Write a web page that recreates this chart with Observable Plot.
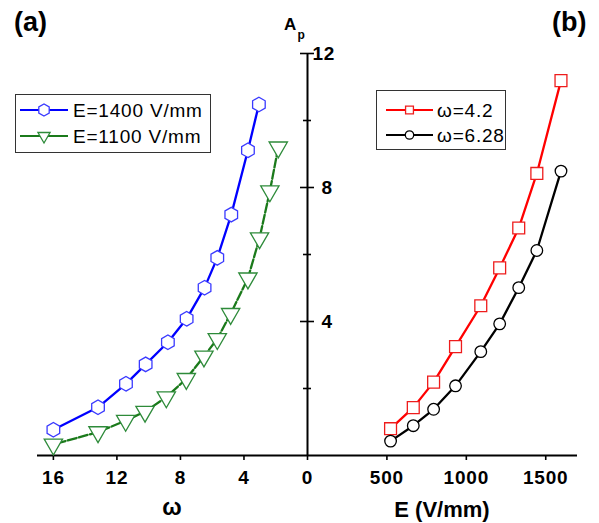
<!DOCTYPE html>
<html>
<head>
<meta charset="utf-8">
<script src="https://cdn.jsdelivr.net/npm/d3@7"></script>
<script src="https://cdn.jsdelivr.net/npm/@observablehq/plot@0.6"></script>
<style>
  body { margin: 0; background: #fff; }
  #wrap { position: relative; width: 599px; height: 523px; font-family: "Liberation Sans", Arial, sans-serif; color: #000; }
  #wrap svg text { letter-spacing: 0.8px; font-weight: bold; font-size: 19px; fill: #000; font-family: "Liberation Sans", Arial, sans-serif; }
  .ov { position: absolute; white-space: nowrap; line-height: 1; font-weight: bold; }
  .legend { position: absolute; border: 1.5px solid #333; background: #fff; box-sizing: border-box; }
  .legend span { position: absolute; white-space: nowrap; line-height: 1; font-size: 19px; letter-spacing: 0.8px; }
</style>
</head>
<body>
<div id="wrap"></div>
<script>
// ---------- data ----------
// panel (a): A_p versus ω
const omega1400 = [3.06, 3.75, 4.8, 5.68, 6.48, 7.61, 8.79, 10.19, 11.43, 13.19, 16];
const ap1400    = [10.48, 9.11, 7.19, 5.90, 5.01, 4.08, 3.38, 2.72, 2.14, 1.44, 0.77];
const omega1100 = [1.84, 2.37, 3.02, 3.75, 4.84, 5.68, 6.52, 7.63, 8.89, 10.23, 11.45, 13.19, 16];
const ap1100    = [9.20, 7.89, 6.49, 5.29, 4.23, 3.48, 2.96, 2.29, 1.74, 1.31, 1.04, 0.70, 0.33];
// panel (b): A_p versus E (V/mm)
const fieldE    = [523, 666, 794, 932, 1091, 1210, 1330, 1444, 1596];
const apW42     = [0.80, 1.43, 2.19, 3.25, 4.47, 5.60, 6.79, 8.42, 11.19];
const apW628    = [0.43, 0.89, 1.38, 2.08, 3.10, 3.93, 5.01, 6.12, 8.49];
// tick labels
const omegaTicks = [16, 12, 8, 4, 0];
const eTicks     = [500, 1000, 1500];
const apMajor    = [4, 8, 12];
const apMinor    = [2, 6, 10];
const omegaMax = 17, eMaxHundreds = 17;

// ---------- shared horizontal scale ----------
// ω runs right-to-left toward the central A_p axis; E (in hundreds of V/mm) runs left-to-right.
const omegaToX = w => -w;
const fieldToX = e => e / 100;

const sA1 = omega1400.map((w, i) => ({x: omegaToX(w), y: ap1400[i]}));
const sA2 = omega1100.map((w, i) => ({x: omegaToX(w), y: ap1100[i]}));
const sB1 = fieldE.map((e, i) => ({x: fieldToX(e), y: apW42[i]}));
const sB2 = fieldE.map((e, i) => ({x: fieldToX(e), y: apW628[i]}));

const tickPos = [...omegaTicks.map(omegaToX), ...eTicks.map(fieldToX)];
const tickLabel = new Map([
  ...omegaTicks.map(w => [omegaToX(w), String(w)]),
  ...eTicks.map(e => [fieldToX(e), String(e)])
]);
const apTop = d3.max(apMajor);

const W = 599, H = 523;
const BLUE = "#0000ff", BLUE_M = "#3a3aff";
const GREEN = "#1b7a1b", GREEN_M = "#2e8b3a";
const RED = "#ff0000", RED_M = "#ee1c1c";
const BLACK = "#000000";

const chart = Plot.plot({
  width: W, height: H,
  marginLeft: 37, marginRight: 22, marginTop: 53, marginBottom: 68,
  x: {domain: [omegaToX(omegaMax), eMaxHundreds], axis: null},
  y: {domain: [0, apTop], axis: null},
  style: {fontFamily: '"Liberation Sans", Arial, sans-serif', background: "white", color: "black", overflow: "visible"},
  marks: [
    Plot.ruleY([0], {stroke: BLACK, strokeWidth: 2}),
    Plot.ruleX([0], {y1: 0, y2: apTop, stroke: BLACK, strokeWidth: 2}),
    Plot.ruleY(apMajor, {x1: 0, x2: 0, insetLeft: -7, insetRight: -7, stroke: BLACK, strokeWidth: 1.6}),
    Plot.ruleY(apMinor, {x1: 0, x2: 0, insetLeft: -4, insetRight: -4, stroke: BLACK, strokeWidth: 1.6}),
    Plot.text(apMajor.slice(0, -1), {x: 0, y: d => d, text: d => String(d), dx: 14, textAnchor: "start", fontSize: 19, fontWeight: "bold", fill: BLACK}),
    Plot.text(apMajor.slice(-1), {x: 0, y: d => d, text: d => String(d), dx: 5, textAnchor: "start", fontSize: 19, fontWeight: "bold", fill: BLACK}),
    Plot.axisX(tickPos, {tickSize: 5, tickPadding: 10, tickFormat: d => tickLabel.get(d), fontSize: 19, fontWeight: "bold", strokeWidth: 1.6, label: null}),
    Plot.line(sA1, {x: "x", y: "y", stroke: BLUE, strokeWidth: 2.3}),
    Plot.line(sA2, {x: "x", y: "y", stroke: GREEN, strokeWidth: 2.3, strokeDasharray: "9,2.5"}),
    Plot.line(sB1, {x: "x", y: "y", stroke: RED, strokeWidth: 2.3}),
    Plot.line(sB2, {x: "x", y: "y", stroke: BLACK, strokeWidth: 2.3}),
    Plot.dot(sA1, {x: "x", y: "y", symbol: "hexagon", r: 6.3, fill: "white", stroke: BLUE_M, strokeWidth: 1.3}),
    Plot.dot(sA2, {x: "x", y: "y", symbol: "triangle", rotate: 180, r: 6.8, fill: "white", stroke: GREEN_M, strokeWidth: 1.3}),
    Plot.dot(sB1, {x: "x", y: "y", symbol: "square", r: 6.7, fill: "white", stroke: RED_M, strokeWidth: 1.3}),
    Plot.dot(sB2, {x: "x", y: "y", symbol: "circle", r: 5.8, fill: "white", stroke: BLACK, strokeWidth: 1.3})
  ]
});

const wrap = document.getElementById("wrap");
wrap.append(chart);

// ---------- overlay texts ----------
const xs = chart.scale("x");
const px = v => xs.apply(v);
function addText(html, opts) {
  const d = document.createElement("div");
  d.className = "ov";
  d.innerHTML = html;
  d.style.fontSize = opts.size + "px";
  d.style.top = (opts.baseline - 0.847 * opts.size) + "px";
  if (opts.center != null) { d.style.left = opts.center + "px"; d.style.transform = "translateX(-50%)"; }
  else d.style.left = opts.left + "px";
  wrap.append(d);
  return d;
}
addText("(a)", {size: 27, left: 14, baseline: 32});
addText("(b)", {size: 27, left: 552, baseline: 32});
addText("A", {size: 17, left: 284, baseline: 30.7});
addText("p", {size: 12, left: 297.5, baseline: 39});
addText("ω", {size: 23, center: (px(omegaToX(omegaMax)) + px(0)) / 2, baseline: 515});
addText("E (V/mm)", {size: 22, center: (px(0) + px(eMaxHundreds)) / 2, baseline: 518});

// ---------- legends ----------
function symbolPath(kind, r) {
  if (kind === "hexagon") {
    const rx = r, ry = r * 2 / Math.sqrt(3), hy = ry / 2;
    return `M0,${ry}L${rx},${hy}L${rx},${-hy}L0,${-ry}L${-rx},${-hy}L${-rx},${hy}Z`;
  }
  const t = {triangle: d3.symbolTriangle2, square: d3.symbolSquare2, circle: d3.symbolCircle}[kind];
  return d3.symbol(t, Math.PI * r * r)();
}
function addLegend(box, rows) {
  const div = document.createElement("div");
  div.className = "legend";
  Object.assign(div.style, {left: box.left + "px", top: box.top + "px", width: box.width + "px", height: box.height + "px"});
  rows.forEach(row => {
    const svg = d3.create("svg").attr("width", box.swatchW).attr("height", 20)
      .style("position", "absolute").style("left", box.swatchX + "px").style("top", (row.cy - 10) + "px");
    svg.append("line").attr("x1", 0).attr("x2", box.swatchW).attr("y1", 10).attr("y2", 10)
      .attr("stroke", row.color).attr("stroke-width", 2.2);
    svg.append("path").attr("d", symbolPath(row.symbol, row.r))
      .attr("transform", `translate(${box.swatchW / 2},10) rotate(${row.rotate || 0})`)
      .attr("fill", "white").attr("stroke", row.mcolor).attr("stroke-width", 1.3);
    div.append(svg.node());
    const span = document.createElement("span");
    span.textContent = row.label;
    span.style.left = box.textX + "px";
    span.style.top = (row.cy - 9.3) + "px";
    div.append(span);
  });
  wrap.append(div);
}
addLegend({left: 15, top: 94, width: 196, height: 59, swatchX: 4, swatchW: 48, textX: 57}, [
  {label: "E=1400 V/mm", color: BLUE, mcolor: BLUE_M, symbol: "hexagon", r: 5.2, cy: 15},
  {label: "E=1100 V/mm", color: GREEN, mcolor: GREEN_M, symbol: "triangle", rotate: 180, r: 5.8, cy: 41}
]);
addLegend({left: 376, top: 90, width: 130, height: 60, swatchX: 9, swatchW: 47, textX: 60}, [
  {label: "ω=4.2", color: RED, mcolor: RED_M, symbol: "square", r: 5, cy: 19},
  {label: "ω=6.28", color: BLACK, mcolor: BLACK, symbol: "circle", r: 4.2, cy: 44}
]);
</script>
</body>
</html>
